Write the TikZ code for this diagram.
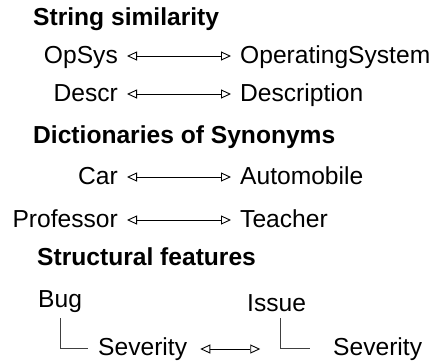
\documentclass[tikz,border=0pt]{standalone}
\usepackage{fontspec}
\setmainfont{Liberation Sans}
\usetikzlibrary{arrows.meta}
\usetikzlibrary{positioning}
\tikzset{
  term/.style = {inner sep=0pt, font=\fontsize{24.6bp}{29bp}\selectfont},
  title/.style = {term, font=\fontsize{24.6bp}{29bp}\selectfont\bfseries},
  lterm/.style = {term, anchor=base east},
  rterm/.style = {term, anchor=base west},
  match/.style = {{Triangle[open,length=10bp,width=9bp]}-{Triangle[open,length=10bp,width=9bp]},
    line width=0.9bp},
  tree/.style = {draw=black!75, line width=0.9bp}
}

\begin{document}
\begin{tikzpicture}[x=1bp,y=-1bp]
\useasboundingbox (0,0) rectangle (436,360);

% string similarity
\node [title, anchor=base west] (h1) at (33,25) {String similarity};
\node [lterm] (opsys) at (118,63) {OpSys};
\node [rterm] (opsysfull) at (240,63) {OperatingSystem};
\node [lterm] (descr) at (118,101) {Descr};
\node [rterm] (descrfull) at (240,101) {Description};

% synonyms
\node [title, anchor=base west] (h2) at (33,143) {Dictionaries of Synonyms};
\node [lterm] (car) at (118,184) {Car};
\node [rterm] (auto) at (240,184) {Automobile};
\node [lterm] (prof) at (118,227) {Professor};
\node [rterm] (teach) at (240,227) {Teacher};

\foreach \a/\b in {opsys/opsysfull, descr/descrfull, car/auto, prof/teach}
  \draw [match] ([shift={(9bp,7bp)}]\a.base east) -- ([shift={(-9bp,7bp)}]\b.base west);

% structure
\node [title, anchor=base west] (h3) at (37,265) {Structural features};
\node [rterm] (bug) at (38,307) {Bug};
\node [rterm] (issue) at (247,311) {Issue};
\node [rterm] (sevbug) at (98,355) {Severity};
\node [rterm] (sevissue) at (333,355) {Severity};

\draw [tree] ([yshift=-6bp]bug.south) |- ([xshift=-10bp]sevbug.west);
\draw [tree] ([xshift=4bp,yshift=-7bp]issue.south) |- ([xshift=-23bp]sevissue.west);

\coordinate (sevend) at ([shift={(73bp,6bp)}]sevbug.base east);
\draw [match] ([shift={(13bp,6bp)}]sevbug.base east) -- (sevend);
\end{tikzpicture}
\end{document}
